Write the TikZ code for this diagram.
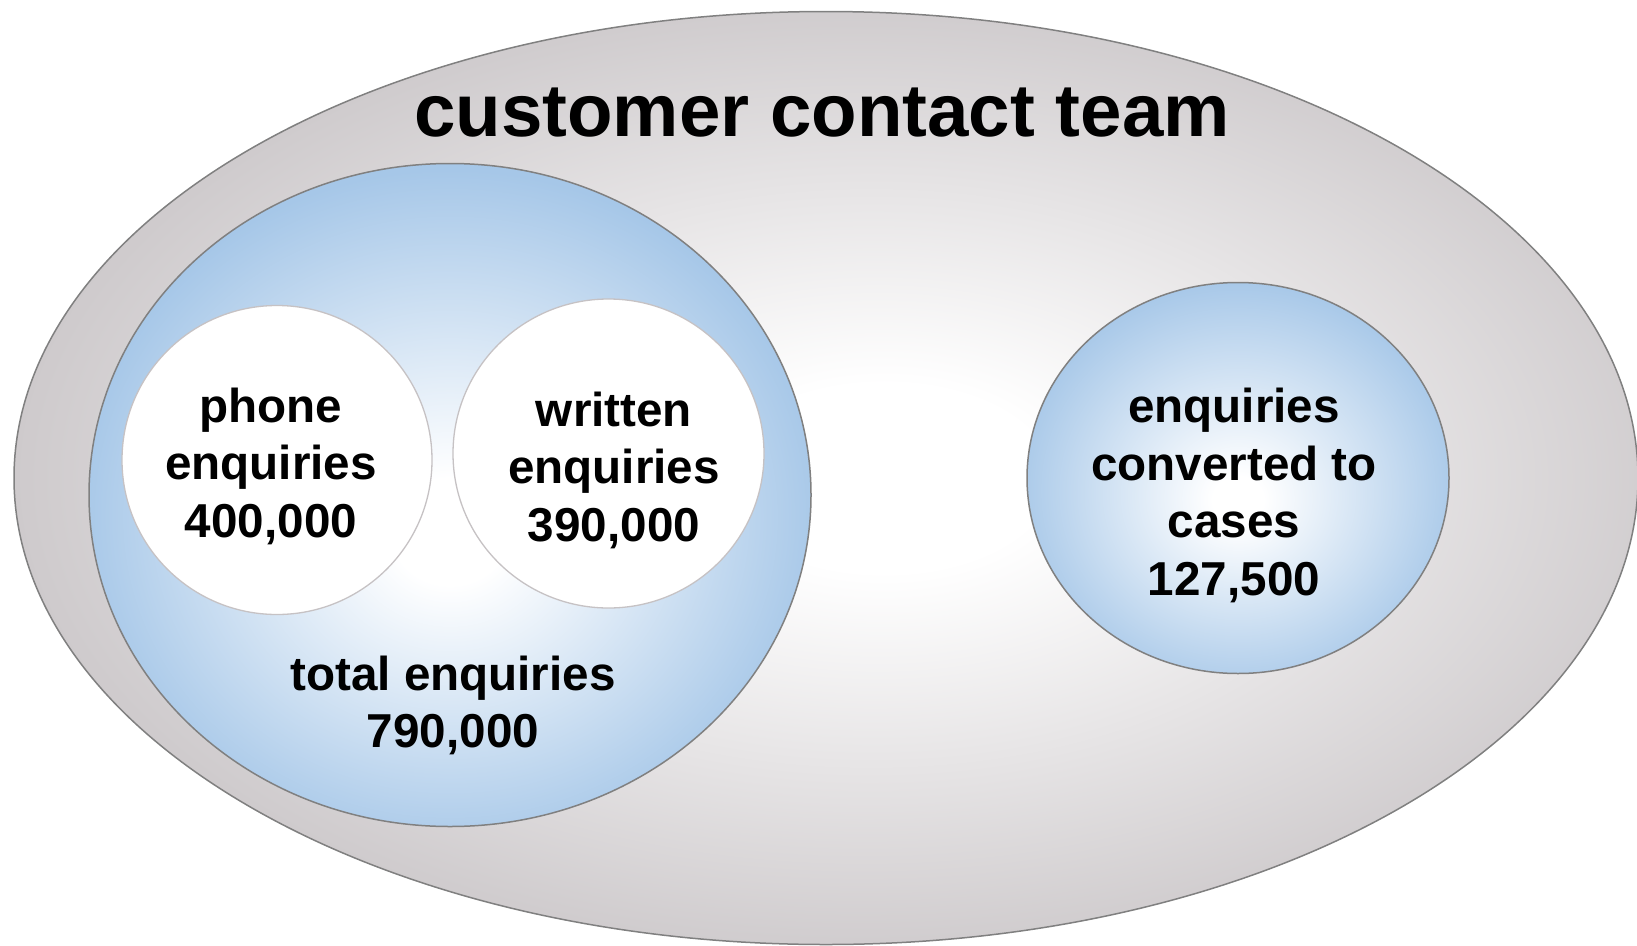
\documentclass[tikz,border=0pt]{standalone}
\usepackage{fontspec}
\setmainfont{Liberation Sans}
\usetikzlibrary{shapes.geometric}
\definecolor{rimgray}{RGB}{206,202,204}
\definecolor{rimblue}{RGB}{166,199,232}
\definecolor{edgegray}{RGB}{128,128,128}
\definecolor{softgray}{RGB}{198,194,196}
\pgfdeclareradialshading{grayglow}{\pgfpoint{2bp}{0bp}}{color(0bp)=(white); color(5bp)=(white); color(26bp)=(rimgray); color(50bp)=(rimgray)}
\pgfdeclareradialshading{blueglow}{\pgfpoint{0bp}{-3bp}}{color(0bp)=(white); color(4bp)=(white); color(26bp)=(rimblue); color(50bp)=(rimblue)}
\pgfdeclareradialshading{blueglowlow}{\pgfpoint{0bp}{-3bp}}{color(0bp)=(white); color(3bp)=(white); color(27bp)=(rimblue); color(50bp)=(rimblue)}
\tikzset{
  blob/.style={ellipse, inner sep=0pt, outer sep=0pt, line width=1.5pt, draw=edgegray},
  whiteblob/.style={ellipse, inner sep=0pt, outer sep=0pt, line width=1.3pt, draw=softgray, fill=white},
  lbl/.style={font=\fontsize{47.6pt}{57.5pt}\selectfont\bfseries, align=center, inner sep=0pt, anchor=base},
  titlelbl/.style={font=\fontsize{74.5pt}{80pt}\selectfont\bfseries, inner sep=0pt, anchor=base}
}
\begin{document}
\begin{tikzpicture}[x=1pt,y=-1pt]
\useasboundingbox (0,0) rectangle (1637,945);
\node[blob, shading=grayglow, minimum width=1624pt, minimum height=933pt] (team) at (826,478) {};
\node[blob, shading=blueglow, minimum width=722pt, minimum height=663pt] (total) at (450,495) {};
\node[whiteblob, minimum width=310pt, minimum height=309pt] (phonec) at (277,460) {};
\node[whiteblob, minimum width=311pt, minimum height=309pt] (writtenc) at (608.5,453.5) {};
\node[blob, shading=blueglowlow, minimum width=422pt, minimum height=391pt] (cases) at (1238,478) {};
\node[titlelbl] (title) at (822,136) {customer contact team};
\node[lbl] (phone) at (271,537) {phone\\enquiries\\400,000};
\node[lbl] (written) at (614,541) {written\\enquiries\\390,000};
\node[lbl] (totaltxt) at (453,747.5) {total enquiries\\790,000};
\node[lbl] (casestxt) at (1234,595) {enquiries\\converted to\\cases\\127,500};
\end{tikzpicture}
\end{document}
